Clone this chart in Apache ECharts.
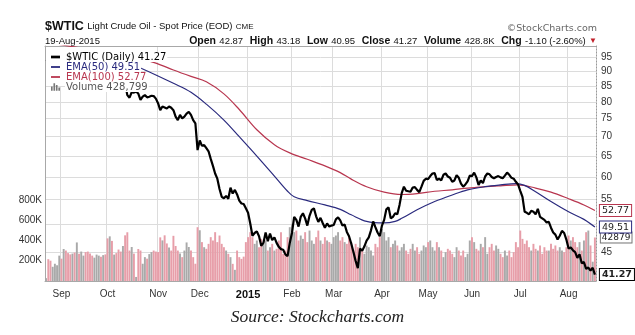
<!DOCTYPE html>
<html><head><meta charset="utf-8">
<script src="https://cdn.jsdelivr.net/npm/echarts@6/dist/echarts.min.js"></script>
<style>html,body{margin:0;padding:0;background:#fff}#c{width:635px;height:335px}</style>
</head><body><div id="c"></div>
<script>
// ---------- data ----------
const firstDay = '2014-08-21';
const lastDay = '2015-08-19';
const holidays = ['2014-09-01','2014-11-27','2014-12-25','2015-01-01','2015-01-19','2015-02-16','2015-04-03','2015-05-25','2015-07-03'];
const monthNames = ['Jan','Feb','Mar','Apr','May','Jun','Jul','Aug','Sep','Oct','Nov','Dec'];

// daily close, one per trading day
const prices = [
  94.0, 93.7, 93.4, 93.9, 93.9, 94.6, 95.9,
  92.9, 95.5, 94.4, 93.3, 92.7, 92.8, 91.7, 92.8, 92.3, 92.9, 94.9, 94.4, 93.1, 92.4, 91.5, 91.6, 92.8, 93.6, 93.5, 94.6, 91.2,
  90.7, 91.0, 89.7, 90.3, 88.9, 87.3, 85.8, 85.8, 85.7, 82.1, 81.3, 83.0, 82.9, 83.2, 82.6, 80.6, 81.6, 82.1, 81.4, 81.6, 81.9, 81.8, 81.0,
  79.6, 77.5, 78.6, 78.3, 78.0, 78.6, 78.2, 77.5, 75.6, 74.6, 76.1, 75.1, 75.6, 76.5, 77.0, 76.1, 74.6, 73.7, 66.5,
  69.0, 67.6, 67.8, 67.0, 66.2, 64.3, 62.6, 60.8, 59.6, 57.3, 55.6, 55.3, 55.8, 55.2, 57.6, 56.3, 57.1, 56.1, 54.8, 54.2, 54.1, 53.2,
  52.3, 50.2, 47.9, 48.4, 48.7, 47.8, 46.1, 46.6, 48.5, 46.9, 48.3, 47.1, 47.6, 46.6, 45.9, 45.5, 45.4, 44.6, 44.3, 46.6,
  48.4, 51.5, 50.9, 49.6, 51.5, 52.2, 51.2, 49.8, 51.7, 52.9, 53.2, 51.6, 50.5, 51.3, 50.3, 49.4, 50.2, 49.6, 49.8,
  49.9, 51.0, 51.4, 50.8, 49.8, 50.0, 48.6, 47.8, 46.5, 45.0, 43.5, 42.3, 45.6, 45.2, 46.0, 47.0, 47.6, 48.9, 50.6, 49.5, 48.5, 47.8,
  49.8, 50.9, 53.0, 53.4, 51.2, 51.5, 52.2, 52.0, 53.9, 56.4, 57.8, 56.9, 56.8, 56.7, 57.6, 57.7, 57.1, 56.6, 57.8, 59.1, 59.6,
  59.5, 60.2, 60.8, 60.9, 59.3, 59.6, 59.2, 60.5, 60.8, 60.1, 59.8, 58.9, 59.2, 60.4, 59.8, 58.5, 57.8, 58.3, 59.0, 60.3,
  60.2, 61.0, 59.9, 58.2, 59.2, 58.6, 60.1, 60.8, 60.6, 60.0, 59.7, 60.0, 60.2, 59.9, 59.7, 60.3, 61.0, 60.5, 59.8, 59.6, 58.9, 58.3,
  56.9, 55.6, 52.5, 52.3, 52.0, 52.7, 52.5, 52.0, 53.1, 51.5, 51.2, 50.9, 50.4, 50.5, 49.4, 48.5, 48.1, 47.2, 47.9, 48.8, 48.4, 47.2,
  45.6, 45.8, 45.3, 45.0, 44.0, 44.6, 43.1, 43.3, 42.2, 42.4, 41.9, 42.37, 41.27
];

// daily volume, thousands
const volumesK = [
  28, 215, 200, 140, 170, 155, 250,
  220, 315, 300, 275, 262, 270, 280, 380, 268, 290, 250, 285, 290, 270, 250, 230, 260, 250, 240, 255, 262,
  420, 440, 395, 260, 275, 310, 290, 345, 450, 480, 300, 335, 270, 40, 315, 300, 170, 235, 220, 265, 285, 300, 290,
  285, 430, 400, 450, 370, 330, 300, 445, 345, 300, 270, 235, 300, 380, 335, 300, 235, 170, 530,
  500, 383, 333, 317, 366, 432, 399, 481, 383, 448, 366, 333, 300, 268, 235, 169, 110, 300, 235, 218, 240, 383,
  432, 481, 432, 366, 399, 333, 415, 366, 399, 300, 333, 366, 300, 317, 399, 481, 268, 300, 432, 530,
  563, 481, 497, 399, 448, 415, 481, 383, 497, 399, 366, 432, 497, 399, 366, 432, 399, 383, 366,
  432, 448, 481, 399, 432, 383, 366, 432, 383, 300, 366, 333, 432, 300, 268, 350, 333, 300, 251, 366, 333, 432,
  513, 481, 399, 432, 333, 366, 399, 350, 300, 333, 366, 300, 268, 317, 366, 300, 333, 268, 300, 350, 333,
  383, 399, 333, 300, 383, 333, 300, 235, 284, 317, 300, 268, 235, 333, 300, 251, 300, 235, 268, 399,
  432, 383, 317, 300, 366, 333, 432, 268, 333, 366, 300, 350, 317, 268, 235, 300, 251, 300, 235, 284, 383, 333,
  497, 415, 366, 399, 333, 300, 366, 317, 300, 350, 268, 333, 300, 300, 366, 317, 350, 300, 333, 300, 284, 333,
  448, 399, 432, 383, 333, 383, 300, 399, 481, 497, 350, 190, 428.799
];

const ema50Dates = ['2014-08-21','2014-09-05','2014-09-19','2014-10-01','2014-10-08','2014-10-15','2014-10-22','2014-10-31','2014-11-12','2014-11-24','2014-12-04','2014-12-16','2014-12-26','2015-01-08','2015-01-21','2015-01-29','2015-02-03','2015-02-11','2015-02-24','2015-03-05','2015-03-12','2015-03-23','2015-04-02','2015-04-10','2015-04-15','2015-04-24','2015-05-06','2015-05-18','2015-05-28','2015-06-09','2015-06-18','2015-06-29','2015-07-06','2015-07-13','2015-07-22','2015-08-03','2015-08-12','2015-08-19'];
const ema50Values = [98.4, 97.4, 96.4, 95.6, 94.6, 92.7, 91.1, 88.7, 85.9, 83.0, 79.3, 74.6, 70.0, 65.0, 60.2, 56.8, 55.6, 54.8, 53.9, 53.0, 51.9, 50.6, 50.3, 50.6, 51.2, 52.9, 54.6, 56.0, 57.1, 57.8, 58.2, 58.5, 58.1, 56.7, 54.6, 52.5, 51.0, 49.51];

const ema100Dates = ['2014-08-21','2014-09-11','2014-10-01','2014-10-13','2014-10-22','2014-10-31','2014-11-12','2014-11-24','2014-12-04','2014-12-16','2014-12-26','2015-01-08','2015-01-21','2015-01-30','2015-02-11','2015-02-24','2015-03-05','2015-03-12','2015-03-23','2015-04-02','2015-04-15','2015-04-24','2015-05-06','2015-05-18','2015-05-28','2015-06-09','2015-06-18','2015-06-30','2015-07-13','2015-07-22','2015-08-03','2015-08-12','2015-08-19'];
const ema100Values = [100.5, 98.6, 96.9, 95.6, 94.4, 92.8, 90.4, 88.2, 86.4, 82.5, 77.7, 71.9, 67.9, 65.8, 64.2, 62.6, 61.0, 59.5, 57.8, 56.6, 56.1, 56.3, 56.8, 57.1, 57.5, 57.8, 58.0, 58.2, 57.5, 56.6, 55.2, 53.9, 52.77];

const priceGridTicks = [45, 50, 55, 60, 65, 70, 75, 80, 85, 90, 95];
const priceLabelTicks = [45, 55, 60, 65, 70, 75, 80, 85, 90, 95];
const priceRange = [40.27, 99.1];
const volumeTicksK = [200, 400, 600, 800];
const volumeMaxK = 2315;

const symbolName = '$WTIC';
const titleText = 'Light Crude Oil - Spot Price (EOD)';
const exchange = 'CME';
const dateText = '19-Aug-2015';
const ohlcLabels = ['Open', 'High', 'Low'];
const ohlcValues = [42.87, 43.18, 40.95];
const volumeText = '428.8K';
const legendVolumeText = '428,799';

// ---------- build ----------
function tradingDays(s, e, hol) {
  const out = [];
  let d = new Date(s + 'T00:00:00Z');
  const end = new Date(e + 'T00:00:00Z');
  while (d <= end) {
    const wd = d.getUTCDay();
    const str = d.toISOString().slice(0, 10);
    if (wd !== 0 && wd !== 6 && hol.indexOf(str) < 0) out.push(str);
    d = new Date(d.getTime() + 86400000);
  }
  return out;
}
const categories = tradingDays(firstDay, lastDay, holidays);
const n = prices.length;
const lastClose = prices[n - 1];
const prevClose = prices[n - 2];
const chg = lastClose - prevClose;
const chgPct = chg / prevClose * 100;

const priceName = symbolName + ' (Daily) ' + lastClose.toFixed(2);
const ema50Name = 'EMA(50) ' + ema50Values[ema50Values.length - 1].toFixed(2);
const ema100Name = 'EMA(100) ' + ema100Values[ema100Values.length - 1].toFixed(2);
const volName = 'Volume ' + legendVolumeText;

const PINK = '#e79ea9', GRAY = '#a9a9a9', NAVY = '#2a2a7e', RED = '#b8364f';
const FRAME = '#a8a8a8';
const FONT = 'Liberation Sans, Arial, sans-serif';
const log = v => Math.log10(v);

function isMonthStart(i) {
  return i > 0 && categories[i].slice(5, 7) !== categories[i - 1].slice(5, 7);
}

const volData = volumesK.map((v, i) => {
  const down = i > 0 && prices[i] < prices[i - 1];
  const item = { value: v, itemStyle: { color: down ? PINK : GRAY } };
  if (i === n - 1) {
    item.label = {
      show: true, position: ['100%', 0], offset: [5, 0], align: 'left', verticalAlign: 'middle',
      formatter: () => String(Math.floor(v * 100)),
      fontFamily: 'DejaVu Sans', fontSize: 9, color: '#222',
      borderColor: '#777', borderWidth: 1, backgroundColor: '#fff', padding: [1, 1, 0, 1]
    };
  }
  return item;
});

function endBox(text, color, bold) {
  return {
    show: true, formatter: () => text, distance: 5,
    fontFamily: 'DejaVu Sans', fontSize: 9.5, fontWeight: bold ? 'bold' : 'normal',
    color: '#222', borderColor: color, borderWidth: 1, backgroundColor: '#fff', padding: [1, 2, 0, 2]
  };
}

const chart = echarts.init(document.getElementById('c'), null, { renderer: 'canvas' });
chart.setOption({
  animation: false,
  backgroundColor: '#fff',
  grid: { left: 45, right: 39, top: 46, bottom: 54, show: false },
  legend: {
    left: 46, top: 47, orient: 'vertical', itemGap: 0, itemWidth: 9, itemHeight: 9,
    selectedMode: false, symbolKeepAspect: true,
    textStyle: { fontFamily: 'DejaVu Sans', fontSize: 10, lineHeight: 10, backgroundColor: '#fff', padding: [0, 1] },
    data: [
      { name: priceName, icon: 'path://M0,0H10V3H0Z', itemStyle: { color: '#000' }, textStyle: { color: '#000' } },
      { name: ema50Name, icon: 'path://M0,0H10V2H0Z', itemStyle: { color: NAVY }, textStyle: { color: NAVY } },
      { name: ema100Name, icon: 'path://M0,0H10V2H0Z', itemStyle: { color: RED }, textStyle: { color: RED } },
      { name: volName, icon: 'path://M0,10V5H2V10ZM3,10V1H5V10ZM6,10V3H8V10ZM9,10V6H11V10Z', itemStyle: { color: '#777' }, textStyle: { color: '#555' } }
    ],
    z: 8
  },
  xAxis: [
    {
      type: 'category', data: categories, boundaryGap: true, position: 'bottom',
      axisLine: { show: true, onZero: false, lineStyle: { color: FRAME, width: 1 } }, axisTick: { show: false },
      axisLabel: {
        interval: (i) => isMonthStart(i), margin: 8,
        fontFamily: FONT, fontSize: 10, color: '#333',
        formatter: (val) => {
          const m = +val.slice(5, 7);
          return m === 1 ? '{y|' + val.slice(0, 4) + '}' : monthNames[m - 1];
        },
        rich: { y: { fontFamily: FONT, fontSize: 11, fontWeight: 'bold', color: '#111' } }
      },
      splitLine: { show: true, interval: (i) => isMonthStart(i), lineStyle: { color: '#dcdcdc', width: 1 } }
    },
    {
      type: 'category', data: categories, boundaryGap: true, position: 'top',
      axisLine: { show: true, onZero: false, lineStyle: { color: FRAME, width: 1 } },
      axisTick: { show: false }, axisLabel: { show: false }, splitLine: { show: false }
    }
  ],
  yAxis: [
    {
      type: 'value', position: 'right', min: log(priceRange[0]), max: log(priceRange[1]),
      axisLine: { show: true, onZero: false, lineStyle: { color: '#999', width: 1, type: [1, 2] } },
      axisTick: { show: false, customValues: priceGridTicks.map(log) },
      axisLabel: {
        customValues: priceLabelTicks.map(log), margin: 5,
        formatter: (v) => String(Math.round(Math.pow(10, v))),
        fontFamily: FONT, fontSize: 10, color: '#333'
      },
      splitLine: { show: true, lineStyle: { color: '#dcdcdc', width: 1 } }
    },
    {
      type: 'value', position: 'left', min: 0, max: volumeMaxK,
      axisLine: { show: true, onZero: false, lineStyle: { color: FRAME, width: 1 } },
      axisTick: { show: false, customValues: volumeTicksK },
      axisLabel: {
        customValues: volumeTicksK, margin: 3, formatter: (v) => v + 'K',
        fontFamily: FONT, fontSize: 10, color: '#333'
      },
      splitLine: { show: false }
    }
  ],
  graphic: [
    { type: 'rect', z: 7, shape: { x: 46, y: 47, width: 76, height: 39 }, style: { fill: '#fff' } },
    {
      type: 'text', left: 45, top: 20, z: 10,
      style: {
        text: '{a|' + symbolName + '} {b|' + titleText + '} {c|' + exchange + '}',
        rich: {
          a: { fontFamily: FONT, fontSize: 12.5, fontWeight: 'bold', fill: '#111' },
          b: { fontFamily: FONT, fontSize: 9.5, fill: '#111' },
          c: { fontFamily: FONT, fontSize: 8, fill: '#111' }
        }
      }
    },
    {
      type: 'text', right: 38, top: 24, z: 10,
      style: { text: '\u00A9StockCharts.com', fontFamily: 'DejaVu Sans', fontSize: 9.5, fill: '#666' }
    },
    {
      type: 'text', left: 45, top: 36, z: 10,
      style: { text: dateText, fontFamily: FONT, fontSize: 9.5, fill: '#111' }
    },
    {
      type: 'text', right: 38, top: 35, z: 10,
      style: {
        text: ohlcLabels.map((l, i) => '{b|' + l + '} {n|' + ohlcValues[i].toFixed(2) + '}').join('  ') +
          '  {b|Close} {n|' + lastClose.toFixed(2) + '}  {b|Volume} {n|' + volumeText + '}  {b|Chg} {n|' +
          chg.toFixed(2) + ' (' + chgPct.toFixed(2) + '%)} {r|\u25BC}',
        rich: {
          b: { fontFamily: FONT, fontSize: 10.5, fontWeight: 'bold', fill: '#111' },
          n: { fontFamily: FONT, fontSize: 9.5, fill: '#111' },
          r: { fontFamily: FONT, fontSize: 8, fill: '#c0202a' }
        }
      }
    },
    {
      type: 'text', left: 'center', top: 308, z: 10,
      style: { text: 'Source: Stockcharts.com', fontFamily: 'Liberation Serif, serif', fontStyle: 'italic', fontSize: 17.5, fill: '#222' }
    }
  ],
  series: [
    {
      name: volName, type: 'bar', yAxisIndex: 1, data: volData, barCategoryGap: '12%',
      itemStyle: { color: GRAY }, z: 1
    },
    {
      name: ema100Name, type: 'line', yAxisIndex: 0, smooth: 0.35, symbol: 'none', connectNulls: true,
      data: ema100Dates.map((d, i) => [d, log(ema100Values[i])]),
      lineStyle: { color: RED, width: 1.2 }, itemStyle: { color: RED }, z: 3,
      endLabel: endBox(ema100Values[ema100Values.length - 1].toFixed(2), RED, false)
    },
    {
      name: ema50Name, type: 'line', yAxisIndex: 0, smooth: 0.35, symbol: 'none', connectNulls: true,
      data: ema50Dates.map((d, i) => [d, log(ema50Values[i])]),
      lineStyle: { color: NAVY, width: 1.2 }, itemStyle: { color: NAVY }, z: 3,
      endLabel: endBox(ema50Values[ema50Values.length - 1].toFixed(2), NAVY, false)
    },
    {
      name: priceName, type: 'line', yAxisIndex: 0, symbol: 'none',
      data: prices.map(log),
      lineStyle: { color: '#000', width: 2.2 }, itemStyle: { color: '#000' }, z: 4,
      endLabel: endBox(lastClose.toFixed(2), '#000', true)
    }
  ]
});
</script>
</body></html>
